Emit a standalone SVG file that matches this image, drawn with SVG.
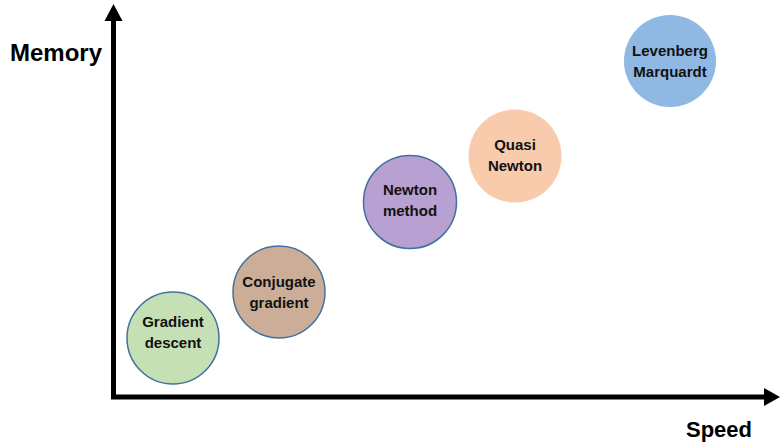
<svg xmlns="http://www.w3.org/2000/svg" width="780" height="445" viewBox="0 0 780 445">
<style>
.lbl{font-family:"Liberation Sans",Arial,sans-serif;font-weight:bold;font-size:15px;fill:#111;text-anchor:middle}
.ax{font-family:"Liberation Sans",Arial,sans-serif;font-weight:bold;fill:#000}
.st{stroke:#41719C;stroke-width:1.5}
</style>
<rect width="780" height="445" fill="#fff"/>
<g id="axes">
<line x1="113.5" y1="399" x2="113.5" y2="18" stroke="#000" stroke-width="5"/>
<polygon points="113.5,4 104.5,21 122.5,21" fill="#000"/>
<line x1="111" y1="397" x2="766" y2="397" stroke="#000" stroke-width="5"/>
<polygon points="780,397 764,388 764,406" fill="#000"/>
<text class="ax" x="10" y="61" font-size="24">Memory</text>
<text class="ax" x="686" y="437" font-size="22">Speed</text>
</g>
<g id="gradient-descent">
<circle cx="173" cy="338" r="46" fill="#C5E0B4" class="st"/>
<text class="lbl" x="173" y="327">Gradient</text>
<text class="lbl" x="173" y="348">descent</text>
</g>
<g id="conjugate-gradient">
<circle cx="279" cy="292" r="46" fill="#CBAD98" class="st"/>
<text class="lbl" x="279" y="287">Conjugate</text>
<text class="lbl" x="279" y="308">gradient</text>
</g>
<g id="newton-method">
<circle cx="410" cy="202" r="46.5" fill="#B9A0D2" class="st"/>
<text class="lbl" x="410" y="195">Newton</text>
<text class="lbl" x="410" y="216">method</text>
</g>
<g id="quasi-newton">
<circle cx="515" cy="156" r="46.5" fill="#F8CBAD"/>
<text class="lbl" x="515" y="150">Quasi</text>
<text class="lbl" x="515" y="171">Newton</text>
</g>
<g id="levenberg-marquardt">
<circle cx="670" cy="61" r="46" fill="#8FB8E3"/>
<text class="lbl" x="670" y="56">Levenberg</text>
<text class="lbl" x="670" y="77">Marquardt</text>
</g>
</svg>
